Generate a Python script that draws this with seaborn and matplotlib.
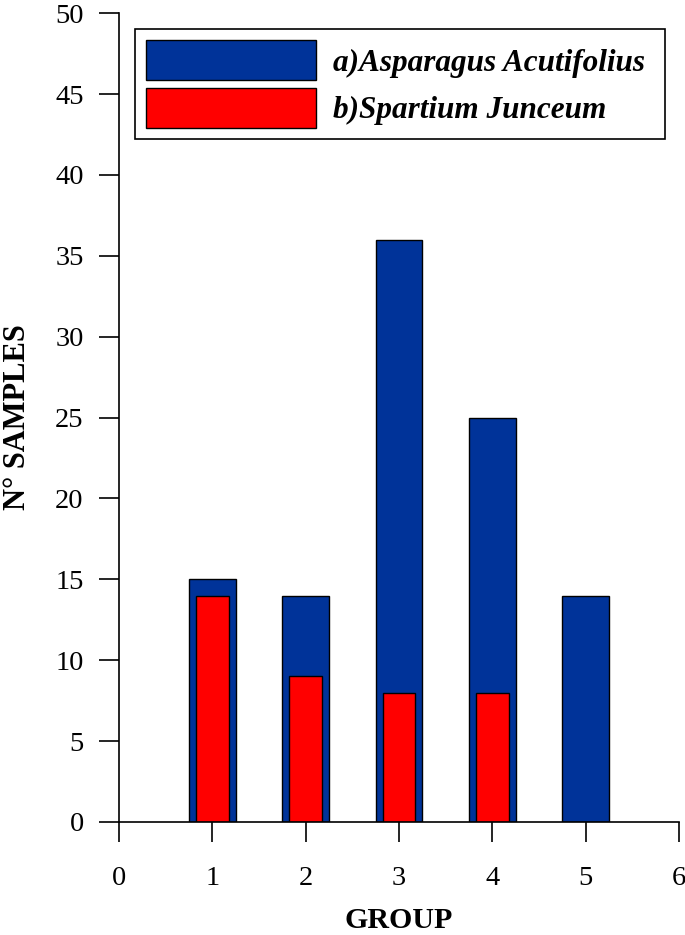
import matplotlib
matplotlib.use("Agg")
import matplotlib.pyplot as plt
import seaborn as sns
import pandas as pd

# Données
groups_a = [1, 2, 3, 4, 5]
samples_a = [15, 14, 36, 25, 14]
groups_b = [1, 2, 3, 4]
samples_b = [14, 9, 8, 8]
label_a = "a)Asparagus Acutifolius"
label_b = "b)Spartium Junceum"

sns.set_style("ticks")
plt.rcParams["font.family"] = ["Liberation Serif", "DejaVu Serif"]
plt.rcParams["text.color"] = "black"
plt.rcParams["axes.labelcolor"] = "black"

df_a = pd.DataFrame({"group": groups_a, "n": samples_a})
df_b = pd.DataFrame({"group": groups_b, "n": samples_b})

fig = plt.figure(figsize=(6.85, 9.35), dpi=100)
ax = fig.add_axes([0.1737, 0.1209, 0.8175, 0.865])

sns.barplot(data=df_a, x="group", y="n", native_scale=True, width=0.5,
            color="#003399", saturation=1, edgecolor="black", linewidth=1,
            label=label_a, ax=ax)
sns.barplot(data=df_b, x="group", y="n", native_scale=True, width=0.35,
            color="#ff0000", saturation=1, edgecolor="black", linewidth=1,
            label=label_b, ax=ax)

ax.set_xlim(0, 6)
ax.set_ylim(0, 50)
ax.set_xticks(range(0, 7))
ax.set_yticks(range(0, 51, 5))
ax.tick_params(axis="both", direction="out", length=14.4, width=1.2,
               labelsize=20.5, colors="black", bottom=True, left=True)
ax.tick_params(axis="x", pad=17)
ax.tick_params(axis="y", pad=11)
for s in ["top", "right"]:
    ax.spines[s].set_visible(False)
for s in ["left", "bottom"]:
    ax.spines[s].set_color("black")
    ax.spines[s].set_linewidth(1.2)

ax.set_xlabel("GROUP", fontsize=21.5, fontweight="bold", labelpad=12)
ax.set_ylabel("N° SAMPLES", fontsize=22, fontweight="bold", labelpad=17)

leg = ax.legend(loc="upper left", bbox_to_anchor=(0.0286, 0.5, 0.946, 0.48),
                mode="expand", fancybox=False, framealpha=1, edgecolor="black",
                prop={"size": 22.5, "style": "italic", "weight": "bold"},
                handlelength=5.45, handleheight=1.59, handletextpad=0.55,
                borderpad=0.35, labelspacing=0.25, borderaxespad=0)
leg.get_frame().set_linewidth(1.2)

plt.savefig("out.png", dpi=100)
